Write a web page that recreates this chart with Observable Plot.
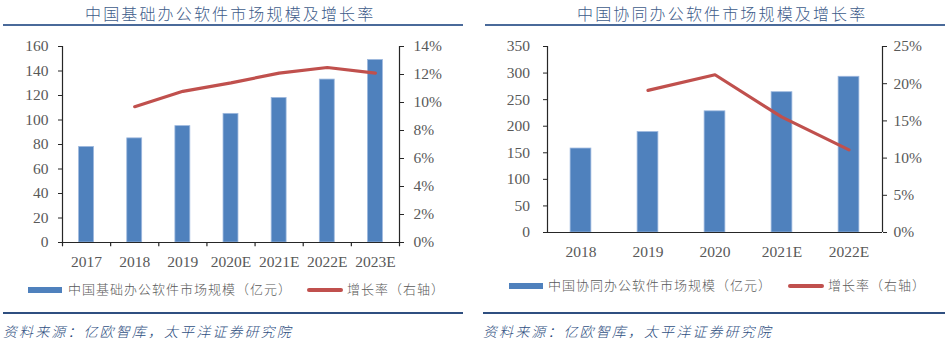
<!DOCTYPE html>
<html><head><meta charset="utf-8">
<script src="https://cdn.jsdelivr.net/npm/d3@7"></script>
<script src="https://cdn.jsdelivr.net/npm/@observablehq/plot@0.6"></script>
<style>
body{margin:0;background:#fff;}
#root{position:relative;width:945px;height:344px;overflow:hidden;font-family:"Noto Sans CJK SC",sans-serif;}
.abs{position:absolute;white-space:nowrap;}
.title{font-size:16px;line-height:18px;color:#3e5c8a;letter-spacing:2.15px;font-weight:300;}
.rule{background:#4a6a9a;}
.leg{font-size:13px;line-height:16px;color:#595959;letter-spacing:1px;font-weight:300;}
.src{font-size:14px;line-height:18px;color:#2f4f7f;font-style:italic;letter-spacing:2.1px;font-weight:300;}
svg [aria-label$="tick"]{stroke:#262626;}
</style></head><body><div id="root"></div>
<script>
// ---- Data: 中国基础办公软件 ----
const basicYears = ["2017","2018","2019","2020E","2021E","2022E","2023E"];
const basicSize = [78,85,95,105,118,133,149];
const basicGrowthYears = ["2018","2019","2020E","2021E","2022E","2023E"];
const basicGrowth = [9.7,10.8,11.4,12.1,12.5,12.1];
const basicYTicks = [0,20,40,60,80,100,120,140,160];
const basicGTicks = [0,2,4,6,8,10,12,14];

// ---- Data: 中国协同办公软件 ----
const collabYears = ["2018","2019","2020","2021E","2022E"];
const collabSize = [158,189,228,264,293];
const collabGrowthYears = ["2019","2020","2021E","2022E"];
const collabGrowth = [19.1,21.2,15.5,11.1];
const collabYTicks = [0,50,100,150,200,250,300,350];
const collabGTicks = [0,5,10,15,20,25];

const BLUE = "#4f81bd", RED = "#c0504d", AX = "#262626";

function chart(o) {
  const yMax = o.yTicks[o.yTicks.length-1];
  const gMax = o.gTicks[o.gTicks.length-1];
  const k = yMax / gMax;
  const bars = o.cats.map((c,i)=>({c, v:o.size[i]}));
  const line = o.gCats.map((c,i)=>({c, g:o.growth[i]*k}));
  const n = o.cats.length;
  const step = (o.width - o.mL - o.mR) / n;
  const p = 0.69;
  const marks = [
    Plot.barY(bars, {x:"c", y:"v", fill:BLUE, stroke:"#9db8de", strokeWidth:0.8}),
    Plot.ruleY([0], {stroke:AX, strokeWidth:1.2}),
    Plot.ruleX([o.cats[0]], {y1:0, y2:yMax, dx:-step/2, stroke:AX, strokeWidth:1.2}),
    Plot.ruleX([o.cats[n-1]], {y1:0, y2:yMax, dx:step/2, stroke:AX, strokeWidth:1.2}),
    Plot.line(line, {x:"c", y:"g", stroke:RED, strokeWidth:3.2, strokeLinecap:"round", strokeLinejoin:"round"}),
    Plot.axisY(o.yTicks, {anchor:"left", tickSize:4, tickPadding:o.padL}),
    Plot.axisY(o.gTicks.map(v=>v*k), {anchor:"right", tickSize:4, tickPadding:o.padR, tickFormat:d=>`${Math.round(d/k)}%`}),
    Plot.axisX({tickSize:0, tickPadding:o.xPad})
  ];
  if (o.catTicks) {
    marks.push(Plot.ruleX(o.cats, {x:d=>d, y1:0, y2:-yMax*0.022, dx:-step/2, stroke:AX, strokeWidth:1.2}));
    marks.push(Plot.ruleX([o.cats[n-1]], {x:d=>d, y1:0, y2:-yMax*0.022, dx:step/2, stroke:AX, strokeWidth:1.2}));
  }
  const svg = Plot.plot({
    width:o.width, height:o.height,
    marginLeft:o.mL, marginRight:o.mR, marginTop:o.mT, marginBottom:o.mB,
    x:{type:"band", domain:o.cats, paddingInner:p, paddingOuter:p/2, round:false, label:null},
    y:{domain:[0,yMax], label:null},
    style:{fontFamily:"'Liberation Serif','Times New Roman',serif", fontSize:"15.5px", color:"#595959", background:"transparent", overflow:"visible"},
    marks
  });
  svg.style.position = "absolute";
  svg.style.left = o.left + "px";
  svg.style.top = o.top + "px";
  return svg;
}

const root = document.getElementById("root");
root.appendChild(chart({
  cats:basicYears, size:basicSize, gCats:basicGrowthYears, growth:basicGrowth,
  yTicks:basicYTicks, gTicks:basicGTicks,
  left:0, top:30, width:470, height:245, mL:62, mR:71, mT:16, mB:33,
  padL:10, padR:10, xPad:13, catTicks:true
}));
root.appendChild(chart({
  cats:collabYears, size:collabSize, gCats:collabGrowthYears, growth:collabGrowth,
  yTicks:collabYTicks, gTicks:collabGTicks,
  left:470, top:30, width:475, height:235, mL:77, mR:63, mT:16, mB:33,
  padL:13.5, padR:7, xPad:13, catTicks:false
}));

function add(cls, css, text) {
  const d = document.createElement("div");
  d.className = "abs " + cls;
  Object.assign(d.style, css);
  if (text) d.textContent = text;
  root.appendChild(d);
}
// Left panel decorations
add("title", {left:"85px", top:"4px"}, "中国基础办公软件市场规模及增长率");
add("rule", {left:"3px", top:"24px", width:"460px", height:"2px"});
add("", {left:"28px", top:"287px", width:"34px", height:"6px", background:BLUE});
add("leg", {left:"68px", top:"281px"}, "中国基础办公软件市场规模（亿元）");
add("", {left:"307px", top:"288px", width:"36px", height:"4px", background:RED, borderRadius:"2px"});
add("leg", {left:"347px", top:"281px"}, "增长率（右轴）");
add("rule", {left:"3px", top:"312px", width:"460px", height:"1.5px", background:"#2f4f80"});
add("src", {left:"3px", top:"322px"}, "资料来源：亿欧智库，太平洋证券研究院");
// Right panel decorations
add("title", {left:"577px", top:"4px"}, "中国协同办公软件市场规模及增长率");
add("rule", {left:"485px", top:"24px", width:"460px", height:"2px"});
add("", {left:"509px", top:"283px", width:"34px", height:"6px", background:BLUE});
add("leg", {left:"548px", top:"277px"}, "中国协同办公软件市场规模（亿元）");
add("", {left:"788px", top:"284px", width:"36px", height:"4px", background:RED, borderRadius:"2px"});
add("leg", {left:"828px", top:"277px"}, "增长率（右轴）");
add("rule", {left:"483px", top:"312px", width:"462px", height:"1.5px", background:"#2f4f80"});
add("src", {left:"483px", top:"322px"}, "资料来源：亿欧智库，太平洋证券研究院");
</script></body></html>
